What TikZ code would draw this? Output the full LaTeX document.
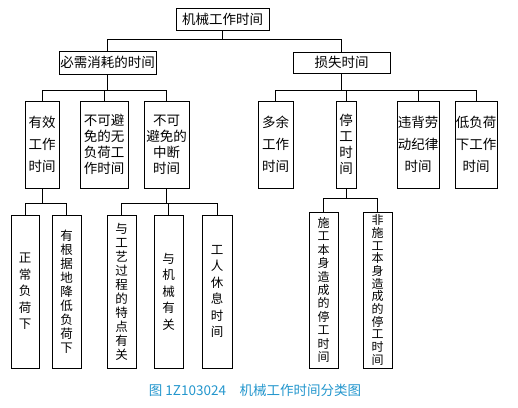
\documentclass[tikz,border=0pt]{standalone}
\usepackage{fontspec}
\newfontfamily\cjk{Noto Sans CJK SC}
\definecolor{capblue}{RGB}{35,150,205}
\begin{document}
\begin{tikzpicture}[x=1pt,y=-1pt,line width=0.65pt,
    box/.style={draw,inner sep=0pt,align=center,font=\cjk\fontsize{13.5}{16}\selectfont},
    midrow/.style={box,minimum height=87pt},
    threeline/.style={font=\cjk\fontsize{13.5}{22}\selectfont},
    col/.style={box,minimum height=153pt,font=\cjk\fontsize{12.5}{14}\selectfont},
    loose/.style={font=\cjk\fontsize{12.5}{16.5}\selectfont},
    tight/.style={font=\cjk\fontsize{12}{12.7}\selectfont}]
    \useasboundingbox (0,0) rectangle (518,407);
    % top levels
    \node[box,minimum width=93pt,minimum height=22pt] (root) at (222.5,19) {机械工作时间};
    \node[box,minimum width=97pt,minimum height=23pt] (need) at (107.5,62.5) {必需消耗的时间};
    \node[box,minimum width=97pt,minimum height=21pt] (loss) at (341.5,62.5) {损失时间};
    % second row
    \node[midrow,threeline,minimum width=34pt] (eff) at (42,144.5) {有效\\工作\\时间};
    \node[midrow,minimum width=48pt] (noload) at (104,144.5) {不可避\\免的无\\负荷工\\作时间};
    \node[midrow,minimum width=45pt] (brk) at (166.5,144.5) {不可\\避免的\\中断\\时间};
    \node[midrow,threeline,minimum width=35pt] (extra) at (275.5,144.5) {多余\\工作\\时间};
    \node[midrow,minimum width=20pt] (stop) at (346,144.5) {停\\工\\时\\间};
    \node[midrow,threeline,minimum width=42pt] (disc) at (418,144.5) {违背劳\\动纪律\\时间};
    \node[midrow,threeline,minimum width=42pt] (low) at (476,144.5) {低负荷\\下工作\\时间};
    % bottom columns
    \node[col,loose,minimum width=28pt] (normal) at (25,291.5) {正\\常\\负\\荷\\下};
    \node[col,minimum width=29pt] (reduced) at (66.5,291.5) {有\\根\\据\\地\\降\\低\\负\\荷\\下};
    \node[col,minimum width=29pt] (proc) at (121.5,291.5) {与\\工\\艺\\过\\程\\的\\特\\点\\有\\关};
    \node[col,loose,minimum width=29pt] (mach) at (168.5,291.5) {与\\机\\械\\有\\关};
    \node[col,loose,minimum width=30pt] (rest) at (217,291.5) {工\\人\\休\\息\\时\\间};
    \node[col,font=\cjk\fontsize{12}{13.4}\selectfont,minimum width=29pt,minimum height=156pt] (self) at (323.5,290) {施\\工\\本\\身\\造\\成\\的\\停\\工\\时\\间};
    \node[col,tight,minimum width=29pt,minimum height=156pt] (nonself) at (377.5,290) {非\\施\\工\\本\\身\\造\\成\\的\\停\\工\\时\\间};
    % connectors
    \draw (root.south) -- ++(0,9) coordinate (r);
    \foreach \c in {need,loss} \draw (r) -| (\c.north);
    \draw (need.south) -- ++(0,16) coordinate (n);
    \foreach \c in {eff,noload,brk} \draw (n) -| (\c.north);
    \draw (loss.south) -- ++(0,17) coordinate (l);
    \foreach \c in {extra,stop,disc,low} \draw (l) -| (\c.north);
    \draw (eff.south) -- ++(0,15) coordinate (e);
    \foreach \c in {normal,reduced} \draw (e) -| (\c.north);
    \draw (brk.south) -- ++(0,15) coordinate (b);
    \foreach \c in {proc,mach,rest} \draw (b) -| (\c.north);
    \draw (stop.south) -- ++(0,10) coordinate (s);
    \foreach \c in {self,nonself} \draw (s) -| (\c.north);
    % caption
    \node[font=\cjk\fontsize{13.5}{16}\selectfont,text=capblue] (cap) at (255,390) {图 1Z103024\quad 机械工作时间分类图};
\end{tikzpicture}
\end{document}
